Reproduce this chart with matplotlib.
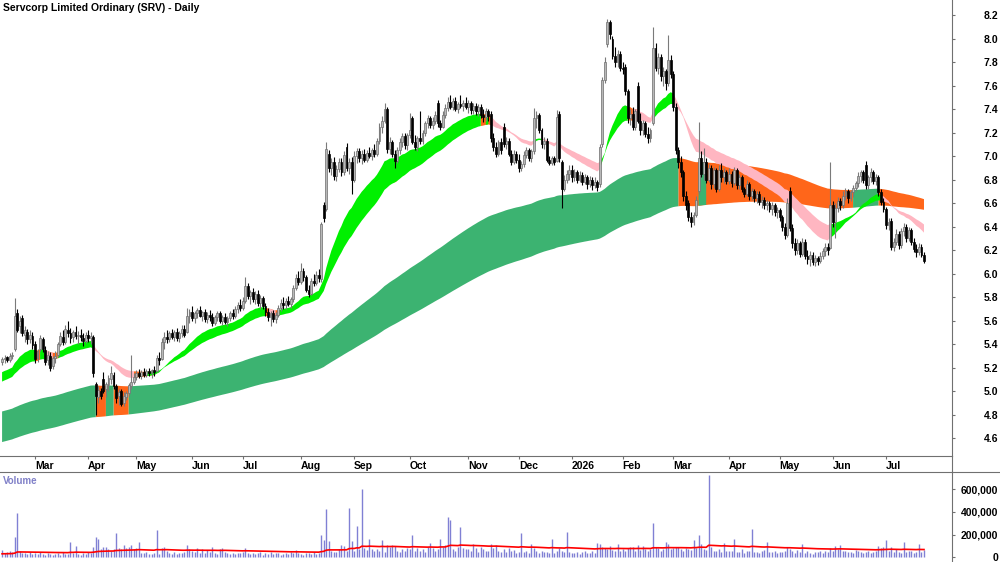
import matplotlib
matplotlib.use("Agg")
import matplotlib.pyplot as plt
import numpy as np
import pandas as pd
from matplotlib.lines import Line2D

plt.rcParams["font.family"] = ["Liberation Sans", "DejaVu Sans"]
plt.rcParams["font.weight"] = "bold"

TITLE = "Servcorp Limited Ordinary (SRV) - Daily"
FIRST_DAY = "2025-02-12"
ASX_HOLIDAYS = ["2025-04-18", "2025-04-21", "2025-04-25", "2025-06-09", "2025-12-25",
                "2025-12-26", "2026-01-01", "2026-01-26", "2026-04-03", "2026-04-06",
                "2026-06-08"]

# daily OHLC, one line per month (Feb 2025 .. Jul 2026)
opens = [
    5.25, 5.27, 5.29, 5.26, 5.30, 5.36, 5.66, 5.55, 5.62, 5.48, 5.50, 5.44, 5.47,
    5.40, 5.28, 5.36, 5.44, 5.35, 5.26, 5.30, 5.21, 5.28, 5.31, 5.40, 5.46, 5.42, 5.52, 5.49, 5.46, 5.50, 5.47, 5.48, 5.45, 5.43,
    5.48, 5.45, 5.46, 5.06, 4.95, 5.00, 5.10, 5.02, 5.05, 5.10, 5.14, 5.04, 4.96, 5.00, 4.90, 4.95, 4.98, 5.04, 5.08,
    5.12, 5.15, 5.13, 5.16, 5.14, 5.17, 5.15, 5.18, 5.17, 5.28, 5.27, 5.42, 5.46, 5.44, 5.49, 5.46, 5.50, 5.45, 5.49, 5.53, 5.50, 5.64,
    5.67, 5.62, 5.66, 5.69, 5.64, 5.67, 5.61, 5.65, 5.63, 5.58, 5.63, 5.66, 5.60, 5.63, 5.59, 5.62, 5.66, 5.64, 5.70, 5.73,
    5.71, 5.77, 5.89, 5.81, 5.84, 5.78, 5.83, 5.75, 5.79, 5.72, 5.67, 5.63, 5.66, 5.61, 5.65, 5.71, 5.75, 5.73, 5.77, 5.74, 5.78, 5.88, 5.96,
    5.93, 6.02, 5.97, 5.86, 5.83, 5.94, 5.92, 5.99, 5.95, 6.58, 6.55, 7.02, 6.90, 6.95, 6.83, 6.89, 6.95, 6.86, 7.08, 6.90, 6.95,
    6.80, 7.00, 7.04, 6.98, 7.02, 6.97, 7.03, 7.00, 7.05, 7.02, 7.13, 7.25, 7.30, 7.40, 7.06, 7.12, 7.02, 6.96, 7.05, 7.12, 7.17, 7.09,
    7.18, 7.32, 7.12, 7.08, 7.15, 7.13, 7.20, 7.28, 7.32, 7.26, 7.30, 7.45, 7.28, 7.25, 7.35, 7.41, 7.46, 7.42, 7.47, 7.40, 7.44, 7.43, 7.45,
    7.42, 7.45, 7.39, 7.43, 7.38, 7.42, 7.35, 7.33, 7.38, 7.36, 7.15, 7.08, 7.02, 7.12, 7.25, 7.10, 7.13, 7.02, 6.95, 7.02,
    6.97, 6.90, 6.93, 7.01, 7.05, 6.98, 7.04, 7.32, 7.35, 7.22, 7.10, 7.13, 6.97, 6.94, 6.98, 6.96, 7.36, 6.95, 6.72, 6.80, 6.85,
    6.88, 6.82, 6.86, 6.80, 6.84, 6.78, 6.82, 6.76, 6.80, 6.75, 6.78, 6.76, 7.10, 7.65, 7.95, 8.14, 8.00, 7.85, 7.80, 7.87,
    7.75, 7.76, 7.55, 7.32, 7.36, 7.25, 7.60, 7.30, 7.22, 7.28, 7.19, 7.15, 7.28, 7.92, 7.75, 7.84, 7.68, 7.72, 7.62, 7.82,
    7.70, 7.42, 7.05, 6.95, 6.86, 6.66, 6.60, 6.48, 6.44, 6.50, 6.70, 6.98, 6.85, 6.95, 6.80, 6.90, 6.76, 6.88, 6.72, 6.88, 6.82, 6.86,
    6.79, 6.85, 6.77, 6.88, 6.75, 6.82, 6.72, 6.68, 6.76, 6.66, 6.70, 6.64, 6.68, 6.61, 6.63, 6.58, 6.60, 6.55, 6.58, 6.52,
    6.54, 6.48, 6.40, 6.33, 6.70, 6.39, 6.26, 6.20, 6.26, 6.17, 6.27, 6.15, 6.12, 6.16, 6.10, 6.13, 6.11, 6.15, 6.19, 6.23, 6.22,
    6.58, 6.44, 6.56, 6.62, 6.58, 6.66, 6.70, 6.64, 6.69, 6.73, 6.77, 6.83, 6.86, 6.92, 6.75, 6.82, 6.86, 6.79, 6.82, 6.69, 6.61,
    6.55, 6.41, 6.45, 6.23, 6.27, 6.34, 6.24, 6.36, 6.40, 6.30, 6.37, 6.27, 6.21, 6.18, 6.23, 6.16,
]
highs = [
    5.29, 5.31, 5.30, 5.32, 5.33, 5.79, 5.70, 5.64, 5.65, 5.55, 5.53, 5.52, 5.50,
    5.43, 5.36, 5.48, 5.46, 5.38, 5.34, 5.33, 5.30, 5.34, 5.42, 5.50, 5.52, 5.56, 5.60, 5.54, 5.52, 5.55, 5.51, 5.53, 5.49, 5.50,
    5.52, 5.50, 5.48, 5.08, 5.04, 5.03, 5.16, 5.08, 5.14, 5.21, 5.16, 5.06, 5.02, 5.02, 4.99, 5.00, 5.07, 5.31, 5.15,
    5.18, 5.19, 5.18, 5.20, 5.19, 5.20, 5.19, 5.21, 5.31, 5.33, 5.45, 5.50, 5.52, 5.51, 5.53, 5.52, 5.54, 5.51, 5.56, 5.56, 5.71, 5.70,
    5.72, 5.68, 5.71, 5.72, 5.68, 5.70, 5.67, 5.69, 5.66, 5.65, 5.68, 5.68, 5.65, 5.66, 5.64, 5.68, 5.70, 5.72, 5.76, 5.78,
    5.80, 5.97, 5.92, 5.86, 5.88, 5.85, 5.86, 5.82, 5.81, 5.75, 5.71, 5.68, 5.69, 5.67, 5.73, 5.78, 5.80, 5.79, 5.81, 5.80, 5.90, 6.00, 6.02,
    6.09, 6.05, 5.99, 5.90, 5.96, 6.00, 6.02, 6.04, 6.44, 6.61, 7.12, 7.05, 6.98, 6.99, 6.92, 6.98, 6.98, 7.04, 7.11, 6.98, 6.99,
    7.04, 7.07, 7.07, 7.05, 7.06, 7.05, 7.08, 7.07, 7.10, 7.15, 7.28, 7.34, 7.45, 7.42, 7.16, 7.14, 7.05, 7.08, 7.15, 7.20, 7.20, 7.20,
    7.37, 7.34, 7.18, 7.17, 7.38, 7.22, 7.30, 7.35, 7.34, 7.33, 7.38, 7.48, 7.31, 7.38, 7.44, 7.50, 7.52, 7.49, 7.50, 7.46, 7.52, 7.48, 7.50,
    7.48, 7.47, 7.45, 7.45, 7.44, 7.44, 7.40, 7.41, 7.40, 7.38, 7.20, 7.12, 7.14, 7.15, 7.28, 7.16, 7.15, 7.05, 7.05, 7.04,
    7.02, 6.96, 7.04, 7.08, 7.07, 7.06, 7.41, 7.38, 7.37, 7.24, 7.16, 7.15, 7.00, 7.00, 7.00, 7.39, 7.38, 6.97, 6.84, 6.88, 6.92,
    6.92, 6.89, 6.88, 6.87, 6.86, 6.85, 6.84, 6.83, 6.82, 6.82, 6.80, 7.10, 7.67, 7.84, 8.17, 8.16, 8.02, 7.93, 7.90, 7.89,
    7.80, 7.78, 7.57, 7.40, 7.42, 7.40, 7.63, 7.37, 7.31, 7.30, 7.25, 7.24, 8.10, 7.96, 7.88, 7.87, 7.76, 7.74, 8.03, 7.86,
    7.72, 7.45, 7.08, 7.00, 6.88, 6.70, 6.63, 6.52, 6.52, 6.66, 7.29, 7.04, 7.07, 6.98, 6.93, 6.92, 6.91, 6.90, 6.92, 6.94, 6.90, 6.88,
    6.90, 6.87, 6.91, 6.90, 6.85, 6.84, 6.74, 6.80, 6.78, 6.73, 6.72, 6.70, 6.70, 6.66, 6.65, 6.63, 6.62, 6.61, 6.60, 6.57,
    6.56, 6.50, 6.43, 6.64, 6.74, 6.42, 6.30, 6.29, 6.28, 6.30, 6.29, 6.20, 6.19, 6.18, 6.16, 6.15, 6.18, 6.22, 6.26, 6.26, 6.95,
    6.62, 6.60, 6.65, 6.64, 6.70, 6.73, 6.72, 6.71, 6.75, 6.79, 6.86, 6.88, 6.88, 6.96, 6.84, 6.90, 6.88, 6.85, 6.84, 6.72, 6.64,
    6.57, 6.47, 6.47, 6.30, 6.38, 6.36, 6.39, 6.43, 6.42, 6.40, 6.39, 6.30, 6.25, 6.26, 6.25, 6.18,
]
lows = [
    5.22, 5.24, 5.25, 5.25, 5.27, 5.34, 5.50, 5.49, 5.47, 5.42, 5.40, 5.41, 5.36,
    5.24, 5.25, 5.34, 5.33, 5.22, 5.22, 5.17, 5.19, 5.24, 5.29, 5.38, 5.39, 5.40, 5.46, 5.41, 5.42, 5.44, 5.40, 5.43, 5.38, 5.41,
    5.42, 5.40, 5.12, 4.80, 4.90, 4.93, 4.98, 4.95, 5.00, 5.06, 5.02, 4.90, 4.88, 4.87, 4.87, 4.92, 4.96, 5.02, 5.06,
    5.09, 5.11, 5.10, 5.12, 5.12, 5.13, 5.11, 5.13, 5.16, 5.22, 5.26, 5.36, 5.41, 5.42, 5.44, 5.43, 5.43, 5.42, 5.46, 5.46, 5.49, 5.58,
    5.60, 5.58, 5.62, 5.63, 5.60, 5.59, 5.58, 5.60, 5.55, 5.56, 5.60, 5.58, 5.56, 5.57, 5.55, 5.60, 5.61, 5.62, 5.66, 5.68,
    5.69, 5.75, 5.78, 5.74, 5.76, 5.74, 5.72, 5.70, 5.70, 5.64, 5.60, 5.55, 5.59, 5.58, 5.63, 5.68, 5.70, 5.70, 5.72, 5.71, 5.76, 5.86, 5.90,
    5.91, 5.94, 5.84, 5.80, 5.82, 5.89, 5.90, 5.93, 5.93, 6.44, 6.53, 6.86, 6.84, 6.80, 6.79, 6.86, 6.83, 6.84, 6.87, 6.85, 6.68,
    6.78, 6.94, 6.95, 6.93, 6.95, 6.95, 6.98, 6.97, 6.99, 7.00, 7.10, 7.20, 7.28, 7.03, 7.02, 6.99, 6.90, 6.94, 7.02, 7.08, 7.06, 7.05,
    7.15, 7.10, 7.05, 7.04, 7.10, 7.10, 7.17, 7.24, 7.24, 7.23, 7.27, 7.25, 7.22, 7.24, 7.32, 7.38, 7.40, 7.39, 7.38, 7.37, 7.41, 7.38, 7.40,
    7.37, 7.36, 7.36, 7.35, 7.34, 7.32, 7.29, 7.30, 7.30, 7.12, 7.04, 6.99, 7.00, 7.02, 7.08, 7.06, 7.00, 6.92, 6.93, 6.94,
    6.86, 6.87, 6.91, 6.98, 6.96, 6.95, 7.02, 7.24, 7.20, 7.07, 7.06, 6.95, 6.92, 6.92, 6.92, 6.95, 6.95, 6.56, 6.70, 6.77, 6.80,
    6.78, 6.79, 6.77, 6.78, 6.75, 6.76, 6.72, 6.74, 6.71, 6.73, 6.70, 6.74, 7.08, 7.62, 7.93, 8.00, 7.83, 7.76, 7.76, 7.72,
    7.70, 7.52, 7.28, 7.26, 7.22, 7.22, 7.28, 7.18, 7.18, 7.16, 7.11, 7.12, 7.26, 7.72, 7.70, 7.64, 7.60, 7.56, 7.60, 7.66,
    7.38, 7.02, 6.90, 6.82, 6.62, 6.54, 6.45, 6.40, 6.41, 6.48, 6.68, 6.82, 6.80, 6.77, 6.78, 6.72, 6.73, 6.69, 6.70, 6.78, 6.77, 6.76,
    6.76, 6.74, 6.75, 6.72, 6.72, 6.69, 6.65, 6.66, 6.63, 6.63, 6.61, 6.60, 6.58, 6.56, 6.55, 6.54, 6.52, 6.50, 6.49, 6.47,
    6.45, 6.36, 6.29, 6.31, 6.36, 6.22, 6.16, 6.17, 6.14, 6.15, 6.12, 6.08, 6.06, 6.07, 6.06, 6.07, 6.09, 6.12, 6.15, 6.16, 6.21,
    6.40, 6.30, 6.52, 6.54, 6.56, 6.63, 6.60, 6.62, 6.65, 6.70, 6.74, 6.78, 6.77, 6.72, 6.72, 6.78, 6.76, 6.75, 6.66, 6.58, 6.52,
    6.38, 6.37, 6.20, 6.19, 6.24, 6.21, 6.22, 6.32, 6.27, 6.28, 6.24, 6.18, 6.14, 6.16, 6.14, 6.09,
]
closes = [
    5.27, 5.28, 5.26, 5.30, 5.31, 5.64, 5.52, 5.60, 5.49, 5.52, 5.44, 5.48, 5.39,
    5.27, 5.34, 5.45, 5.36, 5.25, 5.31, 5.20, 5.28, 5.30, 5.40, 5.47, 5.42, 5.53, 5.49, 5.45, 5.50, 5.47, 5.48, 5.46, 5.43, 5.48,
    5.45, 5.47, 5.15, 4.96, 5.01, 4.96, 5.00, 5.06, 5.11, 5.15, 5.04, 4.94, 4.99, 4.89, 4.96, 4.98, 5.05, 5.08, 5.12,
    5.15, 5.13, 5.16, 5.14, 5.17, 5.15, 5.18, 5.16, 5.28, 5.26, 5.42, 5.46, 5.44, 5.49, 5.46, 5.50, 5.45, 5.49, 5.53, 5.48, 5.64, 5.67,
    5.62, 5.66, 5.69, 5.64, 5.67, 5.61, 5.65, 5.63, 5.58, 5.63, 5.66, 5.60, 5.63, 5.59, 5.62, 5.66, 5.64, 5.70, 5.73, 5.71,
    5.77, 5.89, 5.81, 5.84, 5.78, 5.83, 5.75, 5.79, 5.72, 5.67, 5.63, 5.66, 5.61, 5.65, 5.71, 5.75, 5.73, 5.77, 5.74, 5.78, 5.88, 5.96, 5.93,
    6.02, 5.97, 5.86, 5.83, 5.94, 5.92, 5.99, 5.96, 6.42, 6.47, 7.06, 6.90, 6.95, 6.83, 6.89, 6.95, 6.86, 7.01, 6.90, 6.95, 6.80,
    7.00, 7.04, 6.98, 7.02, 6.97, 7.03, 7.00, 7.05, 7.02, 7.13, 7.25, 7.30, 7.40, 7.06, 7.12, 7.02, 6.96, 7.05, 7.12, 7.17, 7.09, 7.18,
    7.22, 7.12, 7.08, 7.15, 7.13, 7.20, 7.28, 7.32, 7.26, 7.30, 7.35, 7.28, 7.25, 7.35, 7.41, 7.46, 7.42, 7.47, 7.40, 7.44, 7.43, 7.45, 7.42,
    7.45, 7.39, 7.43, 7.38, 7.42, 7.35, 7.33, 7.38, 7.34, 7.15, 7.08, 7.02, 7.12, 7.05, 7.10, 7.13, 7.02, 6.95, 7.02, 6.97,
    6.90, 6.93, 7.01, 7.05, 6.98, 7.04, 7.32, 7.35, 7.22, 7.10, 7.13, 6.97, 6.94, 6.98, 6.95, 7.33, 6.98, 6.72, 6.80, 6.85, 6.88,
    6.82, 6.86, 6.80, 6.84, 6.78, 6.82, 6.76, 6.80, 6.75, 6.78, 6.74, 7.08, 7.65, 7.80, 8.14, 8.04, 7.85, 7.80, 7.87, 7.75,
    7.74, 7.55, 7.32, 7.36, 7.25, 7.38, 7.30, 7.22, 7.28, 7.19, 7.15, 7.22, 7.92, 7.75, 7.84, 7.68, 7.72, 7.62, 7.82, 7.70,
    7.42, 7.05, 6.95, 6.86, 6.66, 6.58, 6.48, 6.44, 6.50, 6.63, 6.98, 6.85, 6.95, 6.80, 6.90, 6.76, 6.88, 6.72, 6.88, 6.82, 6.86, 6.79,
    6.85, 6.77, 6.88, 6.75, 6.82, 6.72, 6.68, 6.76, 6.66, 6.70, 6.64, 6.68, 6.61, 6.63, 6.58, 6.60, 6.55, 6.58, 6.52, 6.54,
    6.48, 6.40, 6.33, 6.60, 6.39, 6.26, 6.20, 6.26, 6.17, 6.27, 6.15, 6.12, 6.16, 6.10, 6.13, 6.11, 6.15, 6.19, 6.23, 6.20, 6.58,
    6.44, 6.56, 6.62, 6.58, 6.66, 6.70, 6.64, 6.69, 6.73, 6.77, 6.83, 6.86, 6.80, 6.75, 6.82, 6.86, 6.79, 6.82, 6.69, 6.61, 6.55,
    6.41, 6.44, 6.23, 6.27, 6.34, 6.24, 6.36, 6.40, 6.30, 6.37, 6.27, 6.21, 6.18, 6.23, 6.16, 6.11,
]
# daily volume in thousands of shares
volumes_k = [
    68, 42, 50, 60, 45, 179, 392, 60, 35, 40, 28, 45, 30,
    35, 28, 45, 30, 25, 40, 32, 22, 30, 38, 25, 45, 30, 28, 132, 35, 102, 30, 25, 40, 28,
    45, 38, 95, 179, 160, 70, 90, 88, 75, 60, 72, 216, 85, 70, 105, 80, 95, 110, 75,
    80, 136, 40, 35, 45, 30, 28, 38, 244, 30, 85, 88, 60, 35, 30, 45, 28, 40, 35, 50, 108, 70,
    55, 45, 80, 40, 70, 35, 62, 48, 90, 40, 30, 75, 85, 45, 38, 30, 42, 28, 35, 40,
    45, 85, 38, 30, 42, 28, 35, 50, 25, 38, 30, 45, 28, 35, 40, 25, 30, 38, 28, 45, 35, 65, 40,
    30, 25, 40, 35, 28, 45, 30, 38, 200, 150, 422, 146, 60, 50, 45, 70, 105, 98, 55, 431, 146,
    60, 274, 70, 605, 80, 65, 165, 75, 55, 70, 60, 155, 50, 105, 95, 108, 100, 60, 45, 70, 55, 80,
    70, 200, 60, 85, 55, 75, 45, 90, 125, 80, 60, 70, 165, 95, 110, 355, 330, 75, 60, 90, 271, 85, 70,
    75, 60, 115, 80, 50, 95, 70, 60, 55, 115, 85, 110, 60, 45, 70, 50, 80, 55, 65, 40,
    50, 216, 45, 60, 35, 120, 80, 55, 40, 60, 45, 50, 35, 165, 40, 55, 80, 60, 45, 224, 50,
    40, 35, 50, 30, 45, 60, 38, 42, 55, 35, 130, 120, 95, 85, 70, 100, 65, 55, 120, 60,
    70, 60, 80, 95, 90, 55, 110, 65, 100, 75, 60, 70, 300, 95, 80, 60, 75, 135, 120, 70,
    80, 95, 95, 70, 60, 85, 75, 65, 151, 80, 194, 120, 70, 65, 725, 90, 60, 55, 70, 50, 130, 60,
    55, 60, 160, 50, 45, 70, 40, 55, 60, 253, 45, 50, 40, 55, 65, 135, 50, 45, 60, 40,
    50, 45, 60, 95, 70, 55, 40, 65, 45, 120, 40, 55, 35, 30, 50, 45, 60, 40, 55, 50, 85,
    60, 100, 75, 105, 60, 55, 45, 50, 40, 65, 55, 45, 35, 50, 60, 40, 45, 55, 100, 80, 95,
    155, 60, 95, 45, 70, 50, 40, 135, 45, 60, 55, 40, 50, 115, 45, 65,
]

# moving-average bands (EMA periods) and their levels at the first bar
short_periods = [22, 25, 28, 31, 34, 38]
short_seeds = [5.15, 5.135, 5.12, 5.105, 5.09, 5.07]
long_periods = [150, 170, 190, 210, 230, 250]
long_seeds = [4.82, 4.77, 4.71, 4.66, 4.61, 4.56]
vol_ma_period = 70
vol_ma_seed = 30000

price_ticks = [4.6, 4.8, 5.0, 5.2, 5.4, 5.6, 5.8, 6.0, 6.2, 6.4, 6.6, 6.8, 7.0, 7.2, 7.4, 7.6, 7.8, 8.0, 8.2]
vol_ticks = [0, 200000, 400000, 600000]
vol_tick_labels = ["0", "200,000", "400,000", "600,000"]

GREEN = "#00f000"
SEA = "#3cb371"
ORANGE = "#ff661a"
PINK = "#ffb6c1"
AXIS = "#707070"


def ema(values, period, seed):
    a = 2.0 / (period + 1)
    out = np.empty(len(values))
    level = seed
    for i, v in enumerate(values):
        level += a * (v - level)
        out[i] = level
    return out


def band(values, periods, seeds):
    lines = np.array([ema(values, p, s) for p, s in zip(periods, seeds)])
    prev = np.hstack([np.array(seeds)[:, None], lines[:, :-1]])
    rising = (lines > prev).all(axis=0)
    falling = (lines < prev).all(axis=0)
    return lines.min(axis=0), lines.max(axis=0), rising, falling


def fill_band(ax, x, lo, hi, mask, color):
    # grow each run by one bar so neighbouring colours meet without a gap
    grown = mask | np.roll(mask, 1)
    grown[0] = mask[0]
    ax.fill_between(x, lo, hi, where=grown, color=color, lw=0, zorder=1)


o = np.array(opens)
h = np.array(highs)
l = np.array(lows)
c = np.array(closes)
vol = np.array(volumes_k) * 1000
n = len(c)
assert len(o) == len(h) == len(l) == len(vol) == n
x = np.arange(n)

days = pd.bdate_range(FIRST_DAY, periods=n + 40)
days = days[~days.isin(pd.to_datetime(ASX_HOLIDAYS))][:n]
month_idx = [i for i in range(1, n) if days[i].month != days[i - 1].month]
month_lbl = [str(days[i].year) if days[i].month == 1 else days[i].strftime("%b") for i in month_idx]

W, H = 1000, 562
fig = plt.figure(figsize=(W / 100, H / 100), dpi=100)


def px_axes(x0, y0, x1, y1):
    return fig.add_axes([x0 / W, 1 - y1 / H, (x1 - x0) / W, (y1 - y0) / H])


ax = px_axes(0, 0, 952, 456)
vax = px_axes(0, 472, 952, 562)

# bands: long (sea green / orange), short (green / orange / pink)
s_lo, s_hi, s_up, s_dn = band(c, short_periods, short_seeds)
l_lo, l_hi, l_up, _ = band(c, long_periods, long_seeds)
fill_band(ax, x, l_lo, l_hi, ~l_up, ORANGE)
fill_band(ax, x, l_lo, l_hi, l_up, SEA)
fill_band(ax, x, s_lo, s_hi, ~(s_up | s_dn), ORANGE)
fill_band(ax, x, s_lo, s_hi, s_up, GREEN)
fill_band(ax, x, s_lo, s_hi, s_dn, PINK)

# candles
up = c >= o
ax.vlines(x[up], l[up], h[up], color="#7a7a7a", lw=0.8, zorder=3)
ax.vlines(x[~up], l[~up], h[~up], color="black", lw=0.8, zorder=3)
body = np.maximum(np.abs(c - o), 0.006)
ax.bar(x[up], body[up], bottom=np.minimum(o, c)[up], width=0.75,
       color="#b8b8b8", edgecolor="#6e6e6e", lw=0.5, zorder=4)
ax.bar(x[~up], body[~up], bottom=np.minimum(o, c)[~up], width=0.75,
       color="black", edgecolor="black", lw=0.5, zorder=4)

# volume
vol_ma = ema(vol, vol_ma_period, vol_ma_seed)
vax.vlines(x, 0, vol, color="#8080d4", lw=1.0)
vax.plot(x, vol_ma, color="red", lw=1.2)

x_left, x_right = -0.82, 375.06
for a in (ax, vax):
    a.set_xlim(x_left, x_right)
    a.set_facecolor("white")
    a.spines["left"].set_visible(False)
    a.spines["top"].set_visible(False)
    a.spines["right"].set_color(AXIS)
    a.spines["bottom"].set_color(AXIS)
    a.yaxis.tick_right()
    a.tick_params(axis="y", length=2.2, width=0.8, color=AXIS, pad=31, labelsize=7.5)

ax.set_ylim(4.447, 8.328)
ax.set_yticks(price_ticks, labels=[f"{t:.1f}" for t in price_ticks], ha="right")
ax.set_xticks(month_idx, labels=month_lbl, ha="left")
ax.tick_params(axis="x", length=2.2, width=0.8, color=AXIS, pad=1.5, labelsize=7.5)

vax.spines["bottom"].set_visible(False)
vax.spines["top"].set_visible(True)
vax.spines["top"].set_color(AXIS)
vax.set_ylim(-41000, 751000)
vax.set_yticks(vol_ticks, labels=vol_tick_labels, ha="right")
vax.set_xticks([])

# frame lines across the date strip and the right label column
fig.add_artist(Line2D([952 / W, 952 / W], [1 - 472 / H, 1 - 456 / H], color=AXIS, lw=0.8))
fig.add_artist(Line2D([952 / W, 1.0], [1 - 472 / H, 1 - 472 / H], color=AXIS, lw=0.8))

fig.text(3 / W, 1 - 8 / H, TITLE, ha="left", va="center", fontsize=7.5, weight="bold")
fig.text(3 / W, 1 - 481 / H, "Volume", ha="left", va="center", fontsize=7, weight="bold", color="#8080c8")

fig.savefig("out.png", dpi=100)
